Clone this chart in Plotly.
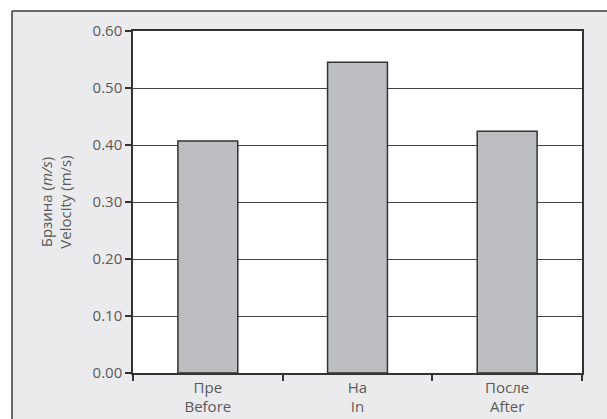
import plotly.graph_objects as go

categories = ["Пре<br>Before", "На<br>In", "После<br>After"]
velocity = [0.407, 0.545, 0.424]
y_ticks = [0.0, 0.1, 0.2, 0.3, 0.4, 0.5, 0.6]

W, H = 607, 419
L, R, T, B = 133, 582, 31, 373
pw, ph = R - L, B - T

def px_x(x):
    return (x - L) / pw

def px_y(y):
    return (B - y) / ph

FONT = "Open Sans"
GREY_BG = "#ebebed"
TXT = "#5a5a5a"

fig = go.Figure(go.Bar(
    x=categories, y=velocity,
    marker=dict(color="#bdbec2", line=dict(color="#333333", width=1.5)),
    width=0.4,
))

shapes = [
    # white strips outside the grey frame
    dict(type="rect", xref="paper", yref="paper", x0=px_x(-10), x1=px_x(W + 10),
         y0=px_y(11), y1=px_y(-10), fillcolor="white", line=dict(width=0), layer="below"),
    dict(type="rect", xref="paper", yref="paper", x0=px_x(-10), x1=px_x(12),
         y0=px_y(H + 10), y1=px_y(-10), fillcolor="white", line=dict(width=0), layer="below"),
    # frame border lines
    dict(type="line", xref="paper", yref="paper", x0=px_x(12), x1=px_x(W + 10),
         y0=px_y(11), y1=px_y(11), line=dict(color="#3a3a3a", width=1.5), layer="below"),
    dict(type="line", xref="paper", yref="paper", x0=px_x(12), x1=px_x(12),
         y0=px_y(11), y1=px_y(H + 10), line=dict(color="#3a3a3a", width=1.5), layer="below"),
]

fig.update_layout(
    width=W, height=H,
    margin=dict(l=L, r=W - R, t=T, b=H - B, autoexpand=False),
    paper_bgcolor=GREY_BG,
    plot_bgcolor="white",
    showlegend=False,
    font=dict(family=FONT, size=15, color=TXT),
    shapes=shapes,
    xaxis=dict(
        showline=True, linecolor="#333333", linewidth=1.5, mirror=True,
        ticks="outside", tickson="boundaries", ticklen=6, tickcolor="#333333", tickwidth=1.5,
        showgrid=False, tickfont=dict(size=15, color=TXT), fixedrange=True,
    ),
    yaxis=dict(
        range=[0, 0.6], tickvals=y_ticks, tickformat=".2f",
        showline=True, linecolor="#333333", linewidth=1.5, mirror=True,
        ticks="outside", ticklen=6, tickcolor="#333333", tickwidth=1.5,
        showgrid=True, gridcolor="#444444", gridwidth=1,
        zeroline=False, tickfont=dict(size=15, color=TXT),
        title=dict(text="Брзина (<i>m/s</i>)<br>Velocity (m/s)", standoff=17,
                   font=dict(size=15, color=TXT)),
        automargin=False, fixedrange=True,
    ),
)

fig.write_html(
    "out.html",
    config=dict(displayModeBar=False),
    post_script="document.body.style.margin='0';document.body.style.overflow='hidden';",
)
